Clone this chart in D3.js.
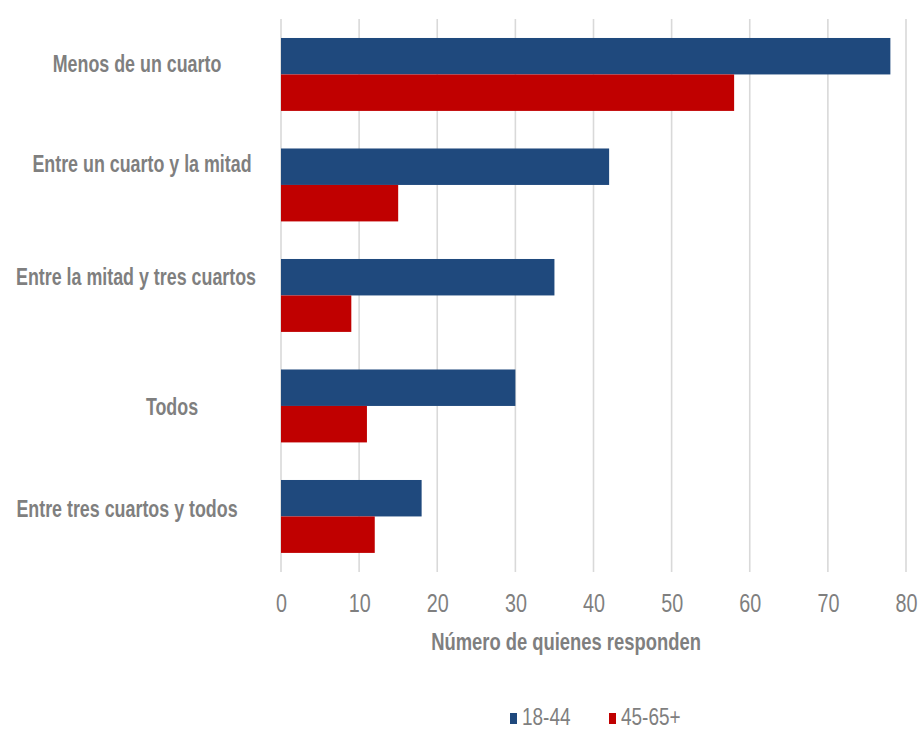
<!DOCTYPE html>
<html>
<head>
<meta charset="utf-8">
<script src="https://cdn.jsdelivr.net/npm/d3@7"></script>
<style>
  body { margin: 0; background: #fff; }
  text { font-family: "Liberation Sans", Arial, sans-serif; fill: #7f7f7f; }
</style>
</head>
<body>
<div id="chart"></div>
<script>
// data
var categories = ["Menos de un cuarto", "Entre un cuarto y la mitad", "Entre la mitad y tres cuartos", "Todos", "Entre tres cuartos y todos"];
var seriesNames = ["18-44", "45-65+"];
var young = [78, 42, 35, 30, 18];
var older = [58, 15, 9, 11, 12];
var xTicks = [0, 10, 20, 30, 40, 50, 60, 70, 80];

var colors = ["#1f497d", "#c00000"];
// label placement tweaks (the original labels are not lined up evenly)
var labelX = [137, 142, 136, 172, 127];
var labelDy = [-2, -13, -10, 9, 1];
// the source text looks squeezed sideways
var squeeze = 0.76;

var width = 920, height = 731;

var svg = d3.select("#chart")
            .append("svg")
            .attr("width", width)
            .attr("height", height);

var rows = categories.map(function(c, i) {
    return {name: c, values: [young[i], older[i]], idx: i};
});

var x = d3.scaleLinear()
    .domain([0, 80])
    .range([281, 906]);

var y = d3.scaleBand()
    .domain(categories)
    .range([19.2, 571.7])
    .paddingInner(0.34)
    .paddingOuter(0.17);

var ySub = d3.scaleBand()
    .domain(seriesNames)
    .range([0, y.bandwidth()]);

// gridlines
svg.append("g")
    .selectAll("line")
    .data(xTicks)
    .enter()
    .append("line")
    .attr("x1", d => x(d))
    .attr("x2", d => x(d))
    .attr("y1", 19)
    .attr("y2", 572)
    .style("stroke", "#d9d9d9")
    .style("stroke-width", 1.6);

// bars
var groups = svg.append("g")
    .selectAll("g")
    .data(rows)
    .enter()
    .append("g")
    .attr("transform", d => "translate(0," + y(d.name) + ")");

groups.selectAll("rect")
    .data(d => d.values.map(function(v, j) { return {key: seriesNames[j], value: v, j: j}; }))
    .enter()
    .append("rect")
    .attr("x", x(0))
    .attr("y", d => ySub(d.key))
    .attr("width", d => x(d.value) - x(0))
    .attr("height", ySub.bandwidth())
    .style("fill", d => colors[d.j]);

// category labels
svg.append("g")
    .selectAll("text")
    .data(rows)
    .enter()
    .append("text")
    .attr("transform", d => "translate(" + labelX[d.idx] + "," + (y(d.name) + y.bandwidth() / 2 + labelDy[d.idx]) + ") scale(" + squeeze + ",1)")
    .attr("text-anchor", "middle")
    .style("font-size", "23.5px")
    .style("font-weight", "bold")
    .text(d => d.name);

// x axis
var xAxis = d3.axisBottom(x).tickValues(xTicks).tickSize(0).tickPadding(0);
var ax = svg.append("g")
    .attr("transform", "translate(0,612)")
    .call(xAxis);
ax.select(".domain").remove();
ax.selectAll("text")
    .attr("dy", null)
    .attr("y", 0)
    .attr("transform", "scale(" + squeeze + ",1)")
    .style("font-size", "26px")
    .style("fill", "#7f7f7f");

svg.append("text")
    .attr("transform", "translate(566,650) scale(0.8,1)")
    .attr("text-anchor", "middle")
    .style("font-size", "23px")
    .style("font-weight", "bold")
    .text("Número de quienes responden");

// legend
var legend = svg.append("g")
    .selectAll("g")
    .data(seriesNames)
    .enter()
    .append("g")
    .attr("transform", function(d, i) { return "translate(" + [510, 609][i] + ",0)"; });

legend.append("rect")
    .attr("x", 0)
    .attr("y", 713)
    .attr("width", 7)
    .attr("height", 11)
    .style("fill", (d, i) => colors[i]);

legend.append("text")
    .attr("transform", "translate(12,725) scale(0.79,1)")
    .style("font-size", "24px")
    .text(d => d);
</script>
</body>
</html>
